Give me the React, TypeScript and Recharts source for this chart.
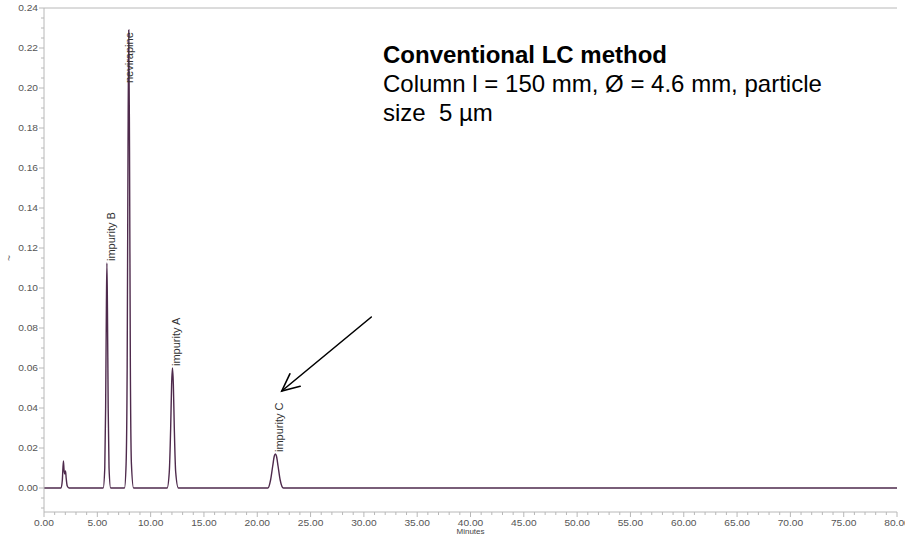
import React from 'react';
import { LineChart, Line, XAxis, YAxis, ReferenceLine } from 'recharts';

// chromatogram trace (minutes, AU)
const retentionTimes = [
  0, 1.6, 1.72, 1.82, 1.88, 1.95, 2.02, 2.08, 2.18, 2.35,
  5.55, 5.7, 5.78, 5.85, 5.9, 5.95, 6.02, 6.1, 6.25,
  7.55, 7.7, 7.8, 7.88, 7.95, 8.02, 8.1, 8.2, 8.4,
  11.55, 11.75, 11.88, 11.97, 12.05, 12.13, 12.22, 12.35, 12.6,
  21.0, 21.25, 21.45, 21.6, 21.7, 21.8, 21.95, 22.15, 22.45,
  80,
];
const absorbance = [
  0, 0, 0.004, 0.0135, 0.009, 0.007, 0.0085, 0.005, 0.001, 0,
  0, 0.01, 0.04, 0.09, 0.1125, 0.09, 0.04, 0.01, 0,
  0, 0.012, 0.06, 0.17, 0.229, 0.17, 0.06, 0.012, 0,
  0, 0.008, 0.03, 0.052, 0.06, 0.052, 0.03, 0.008, 0,
  0, 0.004, 0.011, 0.016, 0.017, 0.016, 0.011, 0.004, 0,
  0,
];

const peakTimes = [5.9, 7.95, 12.05, 21.7];
const peakNames = ['impurity B', 'nevirapine', 'impurity A', 'impurity C'];

const xMajorTicks = [0, 5, 10, 15, 20, 25, 30, 35, 40, 45, 50, 55, 60, 65, 70, 75, 80];
const yMajorTicks = [0, 0.02, 0.04, 0.06, 0.08, 0.1, 0.12, 0.14, 0.16, 0.18, 0.2, 0.22, 0.24];

const annotationTitle = 'Conventional LC method';
const annotationLines = ['Column l = 150 mm, Ø = 4.6 mm, particle', 'size  5 µm'];
const arrowTail = { x: 30.7, y: 0.0855 };
const arrowHead = { x: 22.3, y: 0.0485 };

const FONT = '"Liberation Sans", Arial, sans-serif';
const AXIS_GREY = '#b8b8b8';
const TRACE = '#4e2a4c';

const data = retentionTimes.map((t, i) => {
  const k = peakTimes.indexOf(t);
  return { t, au: absorbance[i], label: k >= 0 ? peakNames[k] : '' };
});

const xTicks = Array.from({ length: 81 }, (_, i) => i);
const yTicks = Array.from({ length: 51 }, (_, i) => Math.round((i * 0.005 - 0.01) * 1000) / 1000);

const isMajorY = (v: number) => yMajorTicks.some((m) => Math.abs(m - v) < 1e-6);

function XTick({ x, y, payload }: any) {
  const major = xMajorTicks.includes(payload.value);
  return (
    <g>
      <line x1={x} x2={x} y1={y} y2={y + (major ? 5 : 3)} stroke={AXIS_GREY} />
      {major && (
        <text
          transform={`translate(${x},${y + 13.5}) scale(1.2,1)`}
          textAnchor="middle"
          fontSize={8.5}
          fontFamily={FONT}
          fill="#555"
        >
          {payload.value.toFixed(2)}
        </text>
      )}
    </g>
  );
}

function YTick({ x, y, payload }: any) {
  const major = isMajorY(payload.value);
  return (
    <g>
      <line x1={x - (major ? 5 : 3)} x2={x} y1={y} y2={y} stroke={AXIS_GREY} />
      {major && (
        <text
          transform={`translate(${x - 6},${y + 3}) scale(1.2,1)`}
          textAnchor="end"
          fontSize={8.5}
          fontFamily={FONT}
          fill="#555"
        >
          {payload.value.toFixed(2)}
        </text>
      )}
    </g>
  );
}

function renderPeakLabel(props: any) {
  const { cx, cy, payload, index } = props;
  if (!payload.label) return <g key={index} />;
  const nearTop = cy < 60;
  const tx = cx + (nearTop ? 4 : 8);
  const ty = nearTop ? cy + 53 : cy - 2;
  return (
    <g key={index}>
      <text
        transform={`translate(${tx},${ty}) rotate(-90)`}
        fontSize={11}
        fontFamily={FONT}
        fill="#333"
      >
        {payload.label}
      </text>
    </g>
  );
}

function Arrow(props: any) {
  const { x1, y1, x2, y2 } = props;
  const ang = Math.atan2(y1 - y2, x1 - x2);
  const len = 19;
  const spread = 0.44;
  const w1 = { x: x2 + len * Math.cos(ang - spread), y: y2 + len * Math.sin(ang - spread) };
  const w2 = { x: x2 + len * Math.cos(ang + spread), y: y2 + len * Math.sin(ang + spread) };
  return (
    <g stroke="#000" strokeWidth={1.6} fill="none" strokeLinecap="round">
      <line x1={x1} y1={y1} x2={x2} y2={y2} />
      <polyline points={`${w1.x},${w1.y} ${x2},${y2} ${w2.x},${w2.y}`} />
    </g>
  );
}

export default function App() {
  return (
    <div style={{ position: 'absolute', left: 0, top: 0, width: 905, height: 537, background: '#fff' }}>
      <LineChart width={905} height={537} data={data} margin={{ top: 8, right: 8, left: 0, bottom: 0 }}>
        <XAxis
          dataKey="t"
          type="number"
          domain={[0, 80]}
          ticks={xTicks}
          interval={0}
          tickSize={0}
          tickMargin={0}
          tickLine={false}
          tick={<XTick />}
          height={25}
          stroke={AXIS_GREY}
          label={{
            content: ({ viewBox }: any) => (
              <text
                x={viewBox.x + viewBox.width / 2}
                y={viewBox.y + 22}
                textAnchor="middle"
                fontSize={8}
                fontFamily={FONT}
                fill="#444"
              >
                Minutes
              </text>
            ),
          }}
        />
        <YAxis
          type="number"
          domain={[-0.012, 0.24]}
          allowDataOverflow
          ticks={yTicks}
          interval={0}
          tickSize={0}
          tickMargin={0}
          tickLine={false}
          tick={<YTick />}
          width={44}
          stroke={AXIS_GREY}
          label={{
            content: ({ viewBox }: any) => (
              <text
                transform={`translate(${viewBox.x + 13},${viewBox.y + 250}) rotate(-90)`}
                textAnchor="middle"
                fontSize={10}
                fontFamily={FONT}
                fill="#666"
              >
                ~
              </text>
            ),
          }}
        />
        <ReferenceLine y={0.24} stroke={AXIS_GREY} />
        <ReferenceLine
          segment={[arrowTail, arrowHead]}
          ifOverflow="visible"
          shape={(p: any) => <Arrow {...p} />}
        />
        <Line
          type="monotone"
          dataKey="au"
          stroke={TRACE}
          strokeWidth={1.4}
          dot={renderPeakLabel}
          activeDot={false}
          isAnimationActive={false}
        />
      </LineChart>
      <div
        style={{
          position: 'absolute',
          left: 383,
          top: 40,
          fontFamily: FONT,
          fontSize: 24,
          lineHeight: '29px',
          color: '#000',
          whiteSpace: 'pre',
        }}
      >
        <div style={{ fontWeight: 'bold' }}>{annotationTitle}</div>
        {annotationLines.map((l) => (
          <div key={l}>{l}</div>
        ))}
      </div>
    </div>
  );
}
